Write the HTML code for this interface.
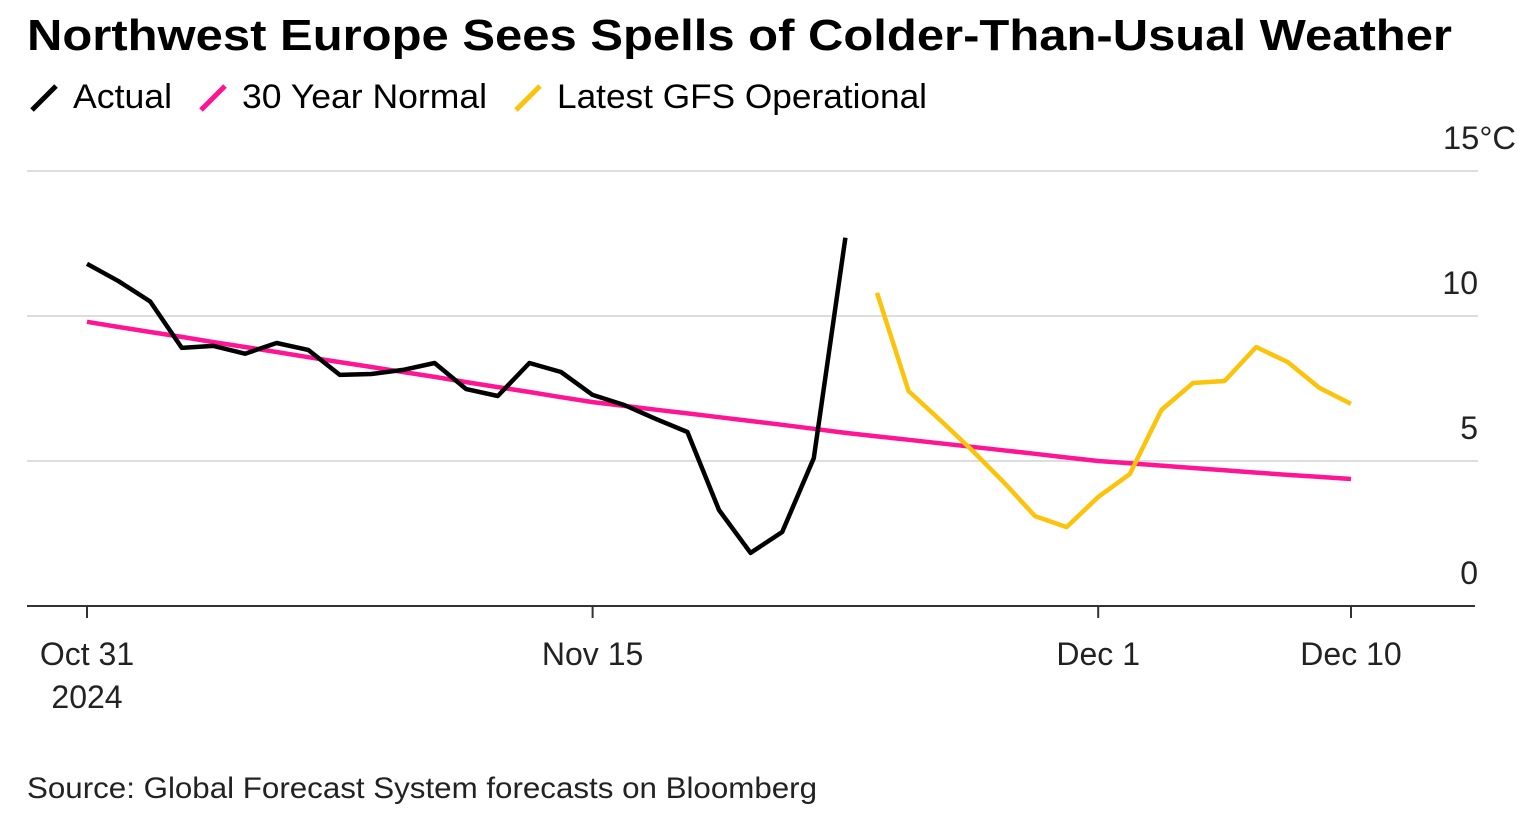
<!DOCTYPE html>
<html><head><meta charset="utf-8"><style>
body{margin:0;background:#fff;width:1529px;height:814px;overflow:hidden;font-family:"Liberation Sans",sans-serif;}
svg text{font-family:"Liberation Sans",sans-serif;}
</style></head><body>
<svg width="1529" height="814">
<text x="27" y="50" font-size="44" font-weight="bold" fill="#000" textLength="1425" lengthAdjust="spacingAndGlyphs">Northwest Europe Sees Spells of Colder-Than-Usual Weather</text>
<g>
<line x1="32" y1="110" x2="56" y2="86" stroke="#000" stroke-width="5"/>
<text x="73" y="108" font-size="34" textLength="99" lengthAdjust="spacingAndGlyphs">Actual</text>
<line x1="201" y1="110" x2="225" y2="86" stroke="#ff1493" stroke-width="5"/>
<text x="242" y="108" font-size="34" textLength="245" lengthAdjust="spacingAndGlyphs">30 Year Normal</text>
<line x1="516" y1="110" x2="540" y2="86" stroke="#fcc30b" stroke-width="5"/>
<text x="557" y="108" font-size="34" textLength="370" lengthAdjust="spacingAndGlyphs">Latest GFS Operational</text>
</g>
<g id="grid"></g><g id="series"></g><g id="axes"></g>
<text x="27" y="798" font-size="30" fill="#222" textLength="790" lengthAdjust="spacingAndGlyphs">Source: Global Forecast System forecasts on Bloomberg</text>
</svg>
<script>
const actual=[11.8,11.2,10.5,8.9,8.97,8.7,9.07,8.83,7.97,8.0,8.14,8.38,7.48,7.24,8.38,8.07,7.28,6.93,6.45,6.0,3.31,1.83,2.55,5.1,12.7];
const normal=[9.8,9.62,9.45,9.28,9.1,8.93,8.76,8.58,8.41,8.24,8.07,7.9,7.72,7.55,7.38,7.2,7.03,6.9,6.77,6.64,6.51,6.38,6.25,6.11,5.97,5.85,5.73,5.61,5.49,5.37,5.25,5.12,5.0,4.92,4.84,4.76,4.68,4.6,4.52,4.45,4.38];
const gfsStart=25;
const gfs=[10.8,7.41,6.41,5.38,4.28,3.1,2.72,3.76,4.55,6.76,7.69,7.76,8.93,8.41,7.52,6.97];
const yTicks=[0,5,10,15];
const yTickLabels=["0","5","10","15°C"];
const xTickIdx=[0,16,32,40];
const xTickLabels=["Oct 31","Nov 15","Dec 1","Dec 10"];
const NS="http://www.w3.org/2000/svg";
const x=i=>87+i*31.6;
const y=v=>606-v*29;
function mk(tag,attrs,parent){const e=document.createElementNS(NS,tag);for(const k in attrs)e.setAttribute(k,attrs[k]);document.getElementById(parent).appendChild(e);return e;}
yTicks.forEach((t,k)=>{
 if(t!==0){const g=mk('line',{x1:27,x2:1478,y1:y(t),y2:y(t),stroke:'#ddd','stroke-width':2},'grid');
 
 }
 const isUnit=yTickLabels[k].length>3;
 const tx=mk('text',{x:isUnit?1443:1478,y:y(t)-22,'font-size':32,'text-anchor':isUnit?'start':'end',fill:'#222'},'axes');
 if(isUnit){tx.setAttribute('textLength',73);tx.setAttribute('lengthAdjust','spacingAndGlyphs');}
 tx.textContent=yTickLabels[k];
 
 
});
const ax=mk('line',{x1:27,x2:1475,y1:606,y2:606,stroke:'#333','stroke-width':2},'axes');


xTickIdx.forEach((i,k)=>{
 const tl=mk('line',{x1:x(i),x2:x(i),y1:606,y2:618,stroke:'#333','stroke-width':2},'axes');
 
 
 const tx=mk('text',{x:x(i),y:665,'font-size':32,'text-anchor':'middle',fill:'#222'},'axes');
 tx.textContent=xTickLabels[k];
 
 
});
const yr=mk('text',{x:x(0),y:708,'font-size':32,'text-anchor':'middle',fill:'#222'},'axes');
yr.textContent='2024';


function line(vals,off,color,name){
 const p=vals.map((v,i)=>x(i+off).toFixed(1)+','+y(v).toFixed(1)).join(' ');
 const e=mk('polyline',{points:p,fill:'none',stroke:color,'stroke-width':4.5,'stroke-linejoin':'round'},'series');
 
 
}
line(normal,0,'#ff1493','normal-line');
line(actual,0,'#000','actual-line');
line(gfs,gfsStart,'#fcc30b','gfs-line');
</script>
</body></html>
